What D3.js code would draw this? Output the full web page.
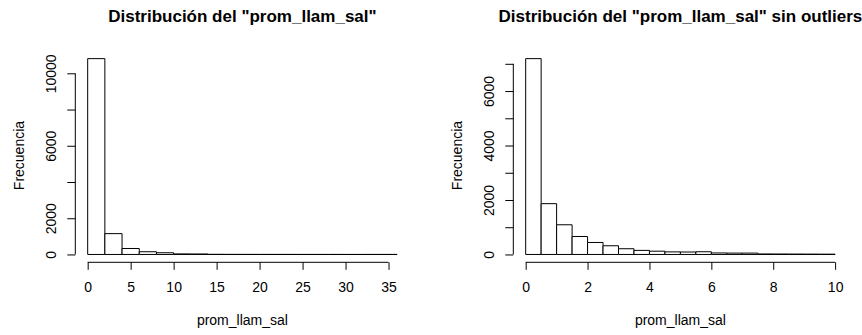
<!DOCTYPE html>
<html>
<head>
<meta charset="utf-8">
<script src="https://cdn.jsdelivr.net/npm/d3@7"></script>
<style>
  body { margin: 0; background: #fff; }
  svg { display: block; font-family: "Liberation Sans", Arial, sans-serif; }
  .tick line, .axis-line { stroke: #000; }
</style>
</head>
<body>
<svg id="chart" width="862" height="335"></svg>
<script>

// left histogram: full variable, bins of width 2
var leftEdges = [0, 2, 4, 6, 8, 10, 12, 14, 16, 18, 20, 22, 24, 26, 28, 30, 32, 34, 36],
    leftCounts = [10810, 1150, 330, 150, 95, 30, 25, 6, 4, 3, 2, 2, 1, 1, 1, 0, 1, 1],
    leftXTicks = [0, 5, 10, 15, 20, 25, 30, 35],
    leftYTicks = [0, 2000, 4000, 6000, 8000, 10000],
    leftYLabels = [0, 2000, 6000, 10000];

// right histogram: without outliers, bins of width 0.5
var rightEdges = [0, 0.5, 1, 1.5, 2, 2.5, 3, 3.5, 4, 4.5, 5, 5.5, 6, 6.5, 7, 7.5, 8, 8.5, 9, 9.5, 10],
    rightCounts = [7190, 1865, 1090, 660, 440, 320, 210, 150, 120, 95, 90, 100, 55, 50, 50, 18, 16, 14, 12, 10],
    rightXTicks = [0, 2, 4, 6, 8, 10],
    rightYTicks = [0, 1000, 2000, 3000, 4000, 5000, 6000, 7000],
    rightYLabels = [0, 2000, 4000, 6000];

var titles = ['Distribución del "prom_llam_sal"', 'Distribución del "prom_llam_sal" sin outliers'],
    xTitle = 'prom_llam_sal',
    yTitle = 'Frecuencia';

var svg = d3.select('#chart'),
    plotTop = 50.8,
    plotBottom = 262.3,
    plotWidth = 334.2;

function drawHist(left, edges, counts, xTicks, yTicks, yLabels, title) {
  var lo = edges[0], hi = edges[edges.length - 1],
      pad = (hi - lo) * 0.04,
      maxC = d3.max(counts),
      x = d3.scaleLinear().domain([lo - pad, hi + pad]).range([left, left + plotWidth]),
      y = d3.scaleLinear().domain([-0.04 * maxC, 1.04 * maxC]).range([plotBottom, plotTop]),
      g = svg.append('g');

  var bins = counts.map(function(c, i) { return { x0: edges[i], x1: edges[i + 1], n: c }; });

  // bars as closed paths so empty bins still show as a line on the baseline
  g.selectAll('path.bar')
      .data(bins)
    .enter().append('path')
      .attr('class', 'bar')
      .attr('d', function(d) {
        var p = d3.path();
        p.rect(x(d.x0), y(d.n), x(d.x1) - x(d.x0), y(0) - y(d.n));
        return p.toString();
      })
      .attr('fill', '#fff')
      .attr('stroke', '#000')
      .attr('stroke-width', 1);

  // x axis
  var xa = g.append('g')
      .attr('transform', 'translate(0,' + plotBottom + ')')
      .call(d3.axisBottom(x).tickValues(xTicks).tickSize(7.5).tickPadding(12.2).tickSizeOuter(0));
  xa.select('.domain').remove();
  xa.append('line').attr('class', 'axis-line')
      .attr('x1', x(xTicks[0])).attr('x2', x(xTicks[xTicks.length - 1]));
  xa.selectAll('text').attr('font-size', 14).attr('fill', '#000').attr('font-family', null);

  // y axis
  var ya = g.append('g')
      .attr('transform', 'translate(' + left + ',0)')
      .call(d3.axisLeft(y).tickValues(yTicks).tickSize(8).tickSizeOuter(0)
        .tickFormat(function(d) { return yLabels.indexOf(d) >= 0 ? d : ''; }));
  ya.select('.domain').remove();
  ya.append('line').attr('class', 'axis-line')
      .attr('y1', y(yTicks[0])).attr('y2', y(yTicks[yTicks.length - 1]));
  ya.selectAll('text')
      .attr('transform', 'rotate(-90)')
      .attr('x', 0).attr('y', -19).attr('dy', null)
      .attr('text-anchor', 'middle')
      .attr('font-size', 14).attr('fill', '#000').attr('font-family', null);

  // titles
  g.append('text')
      .attr('x', left + plotWidth / 2).attr('y', 22)
      .attr('text-anchor', 'middle')
      .attr('font-size', 17).attr('font-weight', 'bold')
      .text(title);

  g.append('text')
      .attr('x', left + plotWidth / 2).attr('y', 325)
      .attr('text-anchor', 'middle')
      .attr('font-size', 14)
      .text(xTitle);

  g.append('text')
      .attr('transform', 'translate(' + (left - 51.5) + ',' + ((plotTop + plotBottom) / 2 - 1) + ') rotate(-90)')
      .attr('text-anchor', 'middle')
      .attr('font-size', 14)
      .text(yTitle);
}

drawHist(75.3, leftEdges, leftCounts, leftXTicks, leftYTicks, leftYLabels, titles[0]);
drawHist(513.3, rightEdges, rightCounts, rightXTicks, rightYTicks, rightYLabels, titles[1]);

</script>
</body>
</html>
